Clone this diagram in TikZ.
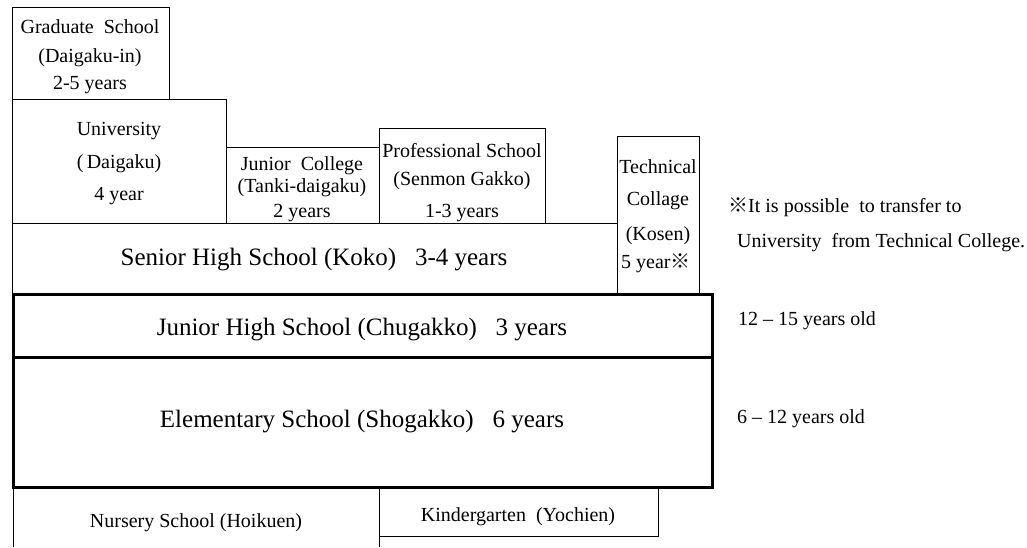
\documentclass[tikz,border=0pt]{standalone}
\usepackage{fontspec}
\setmainfont{Liberation Serif}
\newfontfamily\cjk{Noto Sans CJK JP}
\newcommand{\refmark}{{\cjk ※}}

\begin{document}
\begin{tikzpicture}[x=1pt,y=-1pt,
  box/.style={draw=black, line width=1pt},
  thickbox/.style={draw=black, line width=3pt},
  txt/.style={font=\fontsize{20}{24}\selectfont, anchor=base, inner sep=0pt},
  bigtxt/.style={font=\fontsize{25}{30}\selectfont, anchor=base, inner sep=0pt},
  notetxt/.style={txt, anchor=base west}]
\useasboundingbox (0,0) rectangle (1027,547);
% upper schools
\draw [box] (12,7) rectangle (169,99);
\draw [box] (12,99) rectangle (226,223);
\draw [box] (226,147) rectangle (379,223);
\draw [box] (379,128) rectangle (545,223);
\draw [box] (617,136) rectangle (699,294);
\draw [box] (12,223) rectangle (617,294);
% compulsory
\draw [thickbox] (13,294) rectangle (712,357);
\draw [thickbox] (13,357) rectangle (712,487);
% pre-school
\draw [box] (13,487) -- (13,547);
\draw [box] (379,487) -- (379,547);
\draw [box] (379,487) rectangle (658,536);

\node [txt] (grad1) at (90,33) {Graduate~~School};
\node [txt] (grad2) at (90,62) {(Daigaku-in)};
\node [txt] (grad3) at (90,89) {2-5 years};

\node [txt] (univ1) at (119,135) {University};
\node [txt] (univ2) at (119,168) {(\,Daigaku)};
\node [txt] (univ3) at (119,200) {4 year};

\node [txt] (jcol1) at (302,170) {Junior~~College};
\node [txt] (jcol2) at (302,192) {(Tanki-daigaku)};
\node [txt] (jcol3) at (302,217) {2 years};

\node [txt] (prof1) at (462,157) {Professional School};
\node [txt] (prof2) at (462,185) {(Senmon Gakko)};
\node [txt] (prof3) at (462,217) {1-3 years};

\node [txt] (tech1) at (658,173) {Technical};
\node [txt] (tech2) at (658,205) {Collage};
\node [txt] (tech3) at (658,240) {(Kosen)};
\node [txt, anchor=base west] (tech4) at (621,268) {5 year\refmark};

\node [bigtxt] (senior) at (314,265) {Senior High School (Koko)~~~3-4 years};
\node [bigtxt] (junior) at (362,335) {Junior High School (Chugakko)~~~3 years};
\node [bigtxt] (elem) at (362,427) {Elementary School (Shogakko)~~~6 years};

\node [txt] (nursery) at (196,527) {Nursery~School~(Hoikuen)};
\node [txt] (kinder) at (518,521) {Kindergarten~~(Yochien)};

\node [notetxt] (note1) at (728,212) {\refmark It is possible~~to transfer to};
\node [notetxt] (note2) at (737,247) {University~~from Technical College.};
\node [notetxt] (agejr) at (738,325) {12 -- 15 years old};
\node [notetxt] (ageel) at (737,423) {6 -- 12 years old};
\end{tikzpicture}
\end{document}
